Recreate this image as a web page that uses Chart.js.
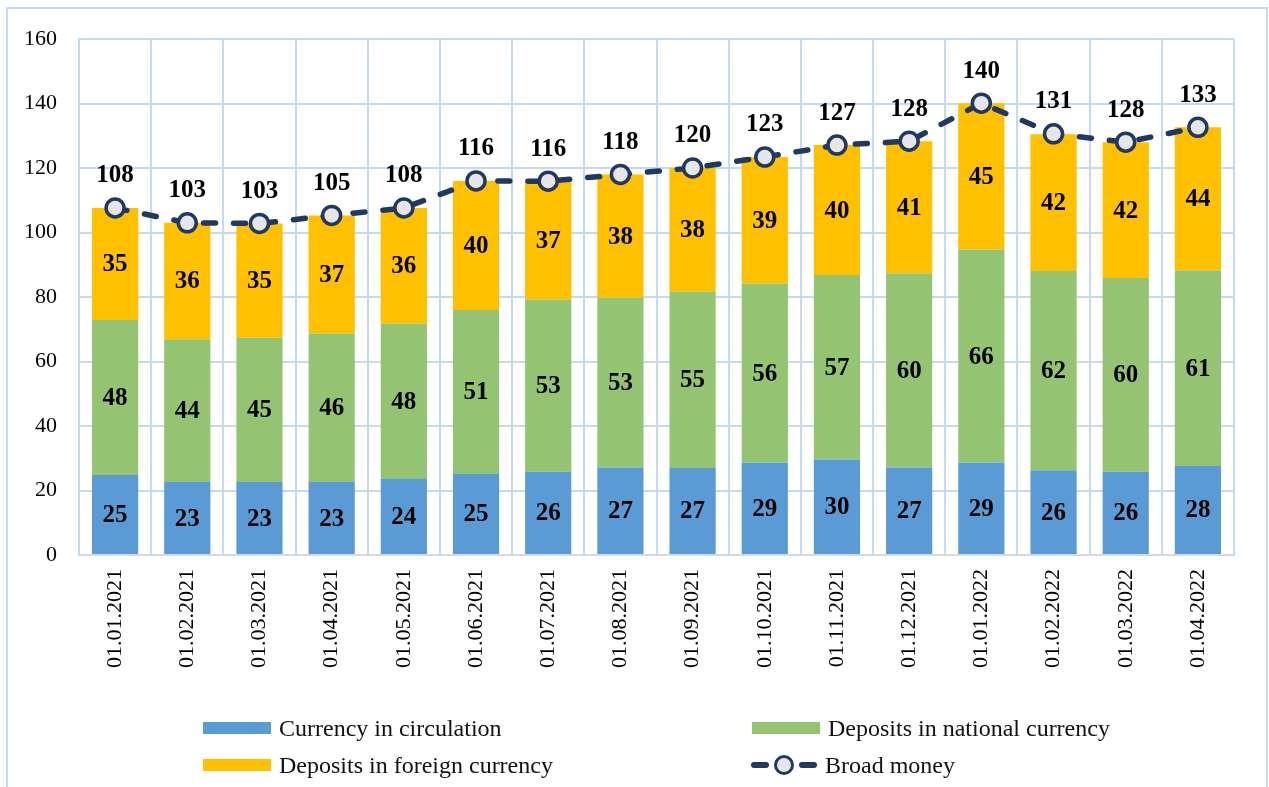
<!DOCTYPE html>
<html>
<head>
<meta charset="utf-8">
<script src="https://cdn.jsdelivr.net/npm/chart.js@4.4.0/dist/chart.umd.min.js"></script>
<style>
  body { margin: 0; background: #fff; font-family: "Liberation Serif", "Times New Roman", serif; }
  #frame { position: absolute; left: 6px; top: 7px; width: 1258px; height: 800px; border: 2px solid #c5d9ef; }
  #chart { position: absolute; left: 0; top: 0; }
  .leg { position: absolute; display: flex; align-items: center; height: 26px; font-size: 24px; color: #111; white-space: nowrap; }
  .sw { width: 68px; height: 12px; margin-right: 8px; }
  .dash { width: 18px; height: 6px; border-radius: 3px; background: #203864; }
  .dot { width: 14px; height: 14px; border: 3.5px solid #203864; border-radius: 50%; background: #e6e6e6; margin: 0 5px; }
</style>
</head>
<body>
<div id="frame"></div>
<canvas id="chart" width="1269" height="787"></canvas>

<div class="leg" style="left:203px; top:715px"><div class="sw" style="background:#5b9bd5"></div>Currency in circulation</div>
<div class="leg" style="left:752px; top:715px"><div class="sw" style="background:#94c472"></div>Deposits in national currency</div>
<div class="leg" style="left:203px; top:752px"><div class="sw" style="background:#ffc000"></div>Deposits in foreign currency</div>
<div class="leg" style="left:751px; top:752px"><div class="dash"></div><div class="dot"></div><div class="dash" style="margin-right:8px"></div>Broad money</div>

<script>
const dates = ["01.01.2021", "01.02.2021", "01.03.2021", "01.04.2021", "01.05.2021", "01.06.2021",
  "01.07.2021", "01.08.2021", "01.09.2021", "01.10.2021", "01.11.2021", "01.12.2021",
  "01.01.2022", "01.02.2022", "01.03.2022", "01.04.2022"];

const currency = [24.8, 22.6, 22.6, 22.6, 23.6, 25.1, 25.8, 27.1, 27.0, 28.6, 29.6, 27.1, 28.6, 26.3, 25.8, 27.6];
const depNational = [48.1, 44.3, 44.8, 46.1, 48.2, 50.9, 53.4, 52.7, 54.7, 55.6, 57.2, 60.3, 66.1, 61.8, 60.1, 60.6];
const depForeign = [34.7, 36.1, 35.4, 36.6, 35.8, 40.0, 36.7, 38.2, 38.3, 39.2, 40.3, 40.9, 45.4, 42.4, 42.1, 44.4];
const broadMoney = [107.6, 103.0, 102.8, 105.3, 107.6, 116.0, 115.9, 118.0, 120.0, 123.4, 127.1, 128.3, 140.1, 130.6, 128.0, 132.6];

const yTicks = [0, 20, 40, 60, 80, 100, 120, 140, 160];

const FONT = "'Liberation Serif', 'Times New Roman', serif";
const gridColor = '#c5d9ef';

// value labels drawn on top of bars and above the line points
const valueLabels = {
  id: 'valueLabels',
  afterDatasetsDraw(chart) {
    const ctx = chart.ctx;
    ctx.save();
    ctx.font = "bold 25px " + FONT;
    ctx.fillStyle = '#000';
    ctx.textAlign = 'center';
    ctx.textBaseline = 'middle';
    chart.data.datasets.forEach((ds, i) => {
      const meta = chart.getDatasetMeta(i);
      meta.data.forEach((el, j) => {
        const txt = Math.round(ds.data[j]);
        if (ds.type === 'line') {
          ctx.fillText(txt, el.x, el.y - 32);
        } else {
          const p = el.getProps(['x', 'y', 'base'], true);
          ctx.fillText(txt, p.x, (p.y + p.base) / 2 + 1);
        }
      });
    });
    ctx.restore();
  }
};

new Chart(document.getElementById('chart'), {
  data: {
    labels: dates,
    datasets: [
      {
        type: 'line', label: 'Broad money', data: broadMoney, stack: 'total', order: 0,
        borderColor: '#203864', borderWidth: 5.5, borderDash: [12, 18], borderCapStyle: 'round',
        pointRadius: 9, pointBorderWidth: 3.5, pointBackgroundColor: '#e6e6e6', pointBorderColor: '#203864',
        fill: false, tension: 0
      },
      { type: 'bar', label: 'Currency in circulation', data: currency, backgroundColor: '#5b9bd5', stack: 'm', order: 1 },
      { type: 'bar', label: 'Deposits in national currency', data: depNational, backgroundColor: '#94c472', stack: 'm', order: 1 },
      { type: 'bar', label: 'Deposits in foreign currency', data: depForeign, backgroundColor: '#ffc000', stack: 'm', order: 1 }
    ]
  },
  options: {
    responsive: false,
    animation: false,
    layout: { padding: { left: 0, top: 39, right: 35, bottom: 112 } },
    datasets: { bar: { categoryPercentage: 1, barPercentage: 0.64 } },
    plugins: { legend: { display: false }, tooltip: { enabled: false } },
    scales: {
      x: {
        stacked: true,
        grid: { color: gridColor, lineWidth: 2, drawTicks: false, offset: true },
        border: { color: '#d9d9d9', width: 2 },
        ticks: { color: '#000', font: { family: FONT, size: 22 }, minRotation: 90, maxRotation: 90, padding: 14, autoSkip: false },
        afterFit(scale) { scale.height = 120; }
      },
      y: {
        stacked: true,
        min: 0, max: 160,
        afterBuildTicks(scale) { scale.ticks = yTicks.map(v => ({ value: v })); },
        grid: { color: gridColor, lineWidth: 2, drawTicks: false },
        border: { color: gridColor, width: 2 },
        ticks: { color: '#000', font: { family: FONT, size: 22 }, padding: 22 },
        afterFit(scale) { scale.width = 79; }
      }
    }
  },
  plugins: [valueLabels]
});
</script>
</body>
</html>
